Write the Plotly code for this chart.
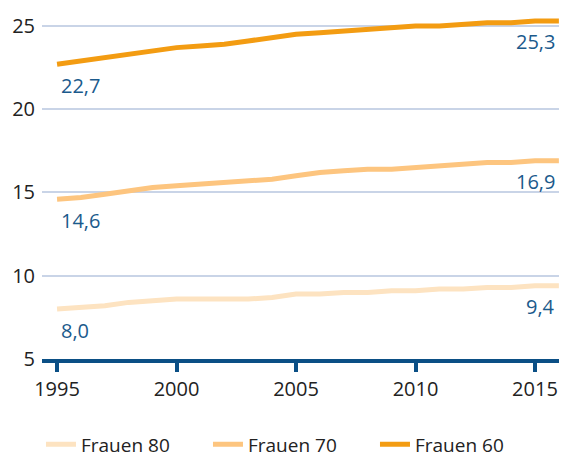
import plotly.graph_objects as go

years = list(range(1995, 2017))
frauen60 = [22.7, 22.9, 23.1, 23.3, 23.5, 23.7, 23.8, 23.9, 24.1, 24.3, 24.5,
            24.6, 24.7, 24.8, 24.9, 25.0, 25.0, 25.1, 25.2, 25.2, 25.3, 25.3]
frauen70 = [14.6, 14.7, 14.9, 15.1, 15.3, 15.4, 15.5, 15.6, 15.7, 15.8, 16.0,
            16.2, 16.3, 16.4, 16.4, 16.5, 16.6, 16.7, 16.8, 16.8, 16.9, 16.9]
frauen80 = [8.0, 8.1, 8.2, 8.4, 8.5, 8.6, 8.6, 8.6, 8.6, 8.7, 8.9,
            8.9, 9.0, 9.0, 9.1, 9.1, 9.2, 9.2, 9.3, 9.3, 9.4, 9.4]
series_names = ["Frauen 80", "Frauen 70", "Frauen 60"]
series_values = [frauen80, frauen70, frauen60]
colors = ["#fde3c1", "#fdc57f", "#f39c12"]
x_ticks = [1995, 2000, 2005, 2010, 2015]
y_ticks = [5, 10, 15, 20, 25]

FONT = "Open Sans"
LABEL_COLOR = "#1b5a8c"
AXIS_COLOR = "#0b4f85"

fig = go.Figure()
for name, vals, col in zip(series_names, series_values, colors):
    fig.add_trace(go.Scatter(x=years, y=vals, mode="lines", name=name,
                             line=dict(color=col, width=5)))
    fig.add_annotation(x=years[0], y=vals[0], text=f"{vals[0]:.1f}".replace(".", ","),
                       showarrow=False, xanchor="left", yanchor="middle",
                       yshift=-21, xshift=2,
                       font=dict(family=FONT, size=20, color=LABEL_COLOR))
    fig.add_annotation(x=years[-1], y=vals[-1], text=f"{vals[-1]:.1f}".replace(".", ","),
                       showarrow=False, xanchor="right", yanchor="middle",
                       yshift=-21, xshift=-2,
                       font=dict(family=FONT, size=20, color=LABEL_COLOR))

fig.update_layout(
    width=559, height=458,
    margin=dict(l=34, r=0, t=0, b=107),
    plot_bgcolor="white", paper_bgcolor="white",
    font=dict(family=FONT, size=20, color="#222222"),
    showlegend=True,
    legend=dict(orientation="h", xref="container", x=0.059, xanchor="left",
                yref="container", y=0.047, yanchor="middle",
                font=dict(family=FONT, size=19, color="#222222"),
                traceorder="normal", entrywidth=122, entrywidthmode="pixels",
                itemwidth=30),
    xaxis=dict(range=[1994.37, 2016.34], tickvals=x_ticks, showgrid=False,
               showline=True, linecolor=AXIS_COLOR, linewidth=4,
               ticks="outside", ticklen=9, tickwidth=4, tickcolor=AXIS_COLOR,
               zeroline=False, tickfont=dict(size=20)),
    yaxis=dict(range=[5, 26.08], tickvals=y_ticks, showgrid=True,
               gridcolor="#c9d4e7", gridwidth=1.5, zeroline=False,
               showline=False, ticks="", ticklabelstandoff=6,
               tickfont=dict(size=20)),
)

fig.write_html("out.html")
